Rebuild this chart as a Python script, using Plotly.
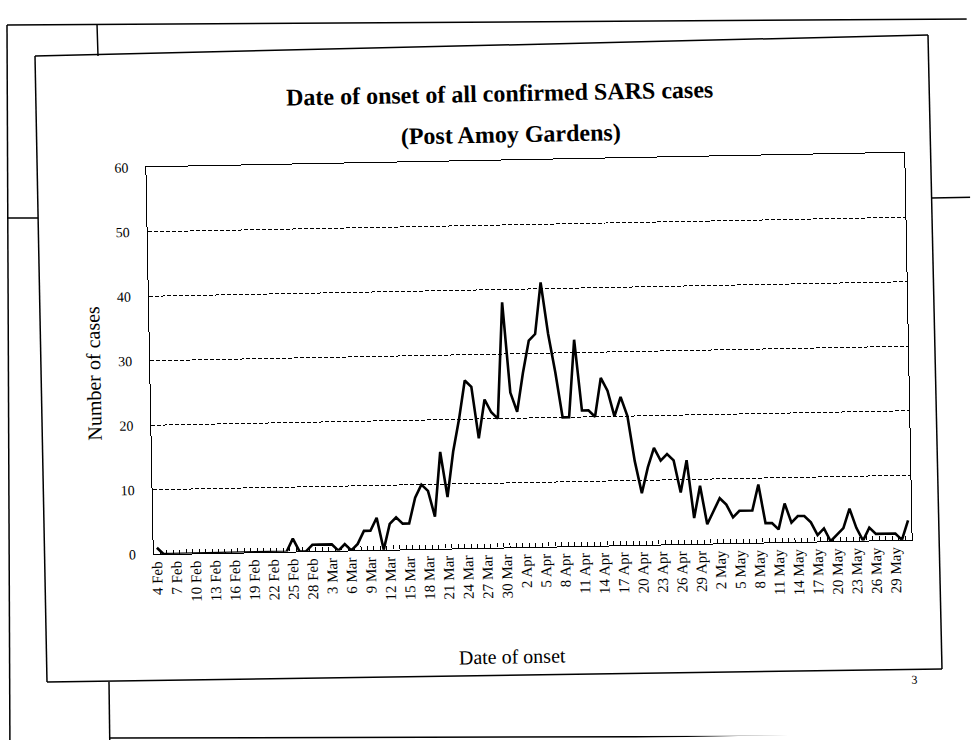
import math
import plotly.graph_objects as go
import pandas as pd

# ---------------- data ----------------
dates = pd.date_range("2003-02-04", "2003-05-31", freq="D")
categories = [f"{d.day} {d.strftime('%b')}" for d in dates]

cases = [1, 0, 0, 0, 0, 0, 0, 0, 0, 0, 0,
         0, 0, 0, 0, 0, 0, 0, 0, 0, 0,
         2, 0, 0, 1, 1, 1, 1, 0, 1, 0,
         1, 3, 3, 5, 0, 4, 5, 4, 4, 8,
         10, 9, 5, 15, 8, 15, 20, 26, 25, 17,
         23, 21, 20, 38, 24, 21, 27, 32, 33, 41,
         33, 27, 20, 20, 32, 21, 21, 20, 26, 24,
         20, 23, 20, 13, 8, 12, 15, 13, 14, 13,
         8, 13, 4, 9, 3, 5, 7, 6, 4, 5,
         5, 5, 9, 3, 3, 2, 6, 3, 4, 4,
         3, 1, 2, 0, 1, 2, 5, 2, 0, 2,
         1, 1, 1, 1, 0, 3]

tick_labels = ["4 Feb", "7 Feb", "10 Feb", "13 Feb", "16 Feb", "19 Feb", "22 Feb",
               "25 Feb", "28 Feb", "3 Mar", "6 Mar", "9 Mar", "12 Mar", "15 Mar",
               "18 Mar", "21 Mar", "24 Mar", "27 Mar", "30 Mar", "2 Apr", "5 Apr",
               "8 Apr", "11 Apr", "14 Apr", "17 Apr", "20 Apr", "23 Apr", "26 Apr",
               "29 Apr", "2 May", "5 May", "8 May", "11 May", "14 May", "17 May",
               "20 May", "23 May", "26 May", "29 May"]

y_ticks = [0, 10, 20, 30, 40, 50, 60]

title_1 = "Date of onset of all confirmed SARS cases"
title_2 = "(Post Amoy Gardens)"
x_title = "Date of onset"
y_title = "Number of cases"
page_no = "3"

# ---------------- layout geometry ----------------
W, H = 973, 740
L, R, T, B = 150, 908, 160, 547          # plot area (unrotated page pixels)
FONT = "Liberation Serif"
ANG = -1.1                                # scan tilt (degrees, CSS sense)
CX, CY = 529, 353                         # tilt centre
_s = math.sin(math.radians(ANG))
_c = math.cos(math.radians(ANG))


def unrot(sx, sy):
    """reference (tilted) pixel -> unrotated page pixel"""
    dx, dy = sx - CX, sy - CY
    return CX + _c * dx + _s * dy, CY - _s * dx + _c * dy


def px(x, y):
    return (x - L) / (R - L), (B - y) / (B - T)


def spx(sx, sy):
    return px(*unrot(sx, sy))


ticktext = [c if c in tick_labels else "" for c in categories]

fig = go.Figure()
fig.add_trace(go.Scatter(
    x=categories, y=cases, mode="lines",
    line=dict(color="black", width=2.6),
    showlegend=False, hoverinfo="x+y",
))

fig.update_layout(
    width=W, height=H,
    margin=dict(l=L, r=W - R, t=T, b=H - B, pad=0),
    paper_bgcolor="white", plot_bgcolor="white",
    font=dict(family=FONT, color="black"),
    xaxis=dict(
        type="category", categoryorder="array", categoryarray=categories,
        range=[-0.5, len(categories) - 0.5],
        tickvals=categories, ticktext=ticktext, tickangle=-90,
        tickfont=dict(family=FONT, size=15, color="black"),
        ticks="inside", ticklen=4, tickcolor="black", tickwidth=1,
        tickson="boundaries",
        showline=True, linecolor="black", linewidth=1.3, mirror=True,
        showgrid=False, zeroline=False,
    ),
    yaxis=dict(
        range=[0, 60], tickvals=y_ticks,
        tickfont=dict(family=FONT, size=14, color="black"),
        ticks="", ticklabelstandoff=14,
        showline=True, linecolor="black", linewidth=1.3, mirror=True,
        showgrid=True, gridcolor="black", gridwidth=1, griddash="4px,2px",
        zeroline=False,
    ),
)

ann = []


def add_text(text, sx, sy, size, bold=False, angle=0):
    xp, yp = spx(sx, sy)
    ann.append(dict(text=f"<b>{text}</b>" if bold else text, x=xp, y=yp,
                    xref="paper", yref="paper", showarrow=False,
                    xanchor="center", yanchor="middle", textangle=angle,
                    font=dict(family=FONT, size=size, color="black")))


add_text(title_1, 500, 94, 24, bold=True)
add_text(title_2, 511, 134, 24, bold=True)
add_text(y_title, 93, 373, 20, angle=-90)
add_text(x_title, 512, 656, 20)
add_text(page_no, 914, 680, 12)
fig.update_layout(annotations=ann)

# scanned slide frame lines (decoration), given in reference pixels
shapes = []


def seg(sx0, sy0, sx1, sy1, w=1.5):
    a, b = spx(sx0, sy0)
    c, d = spx(sx1, sy1)
    shapes.append(dict(type="line", xref="paper", yref="paper",
                       x0=a, y0=b, x1=c, y1=d,
                       line=dict(color="black", width=w)))


# inner slide box
seg(35, 56, 928, 35)
seg(928, 35, 942, 669)
seg(942, 669, 47, 682)
seg(47, 682, 35, 56)
# outer page lines
seg(7, 25, 985, 19)
seg(7, 25, 10, 760)
seg(97, 24, 98, 56)
seg(7, 218, 38, 218)
seg(931, 198, 985, 197)
seg(109, 682, 110, 760)
seg(109, 738, 985, 736)
fig.update_layout(shapes=shapes)

post = ("document.documentElement.style.overflow='hidden';"
        "document.body.style.margin='0';document.body.style.overflow='hidden';"
        "var gd=document.getElementById('{plot_id}');"
        f"gd.style.transformOrigin='{CX}px {CY}px';"
        f"gd.style.transform='rotate({ANG}deg)';")

fig.write_html("out.html", post_script=post)
